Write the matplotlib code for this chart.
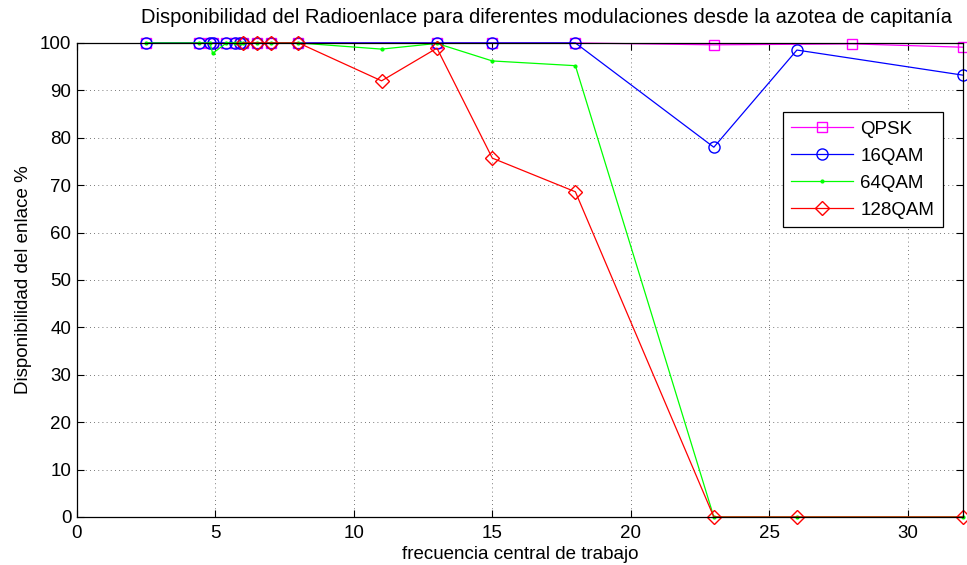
import matplotlib
matplotlib.use('Agg')
import matplotlib.pyplot as plt

plt.rcParams['font.family'] = ['Liberation Sans', 'DejaVu Sans']

# frecuencias (GHz) y disponibilidad (%) por modulacion
f_qpsk = [2.5, 4.4, 4.8, 4.9, 5.4, 5.7, 5.9, 6.0, 6.5, 7.0, 8.0, 13.0, 15.0, 18.0, 23.0, 28.0, 32.0]
d_qpsk = [100, 100, 100, 100, 100, 100, 100, 100, 100, 100, 100, 100, 100, 100, 99.6, 99.8, 99.1]

f_16qam = [2.5, 4.4, 4.8, 4.9, 5.4, 5.7, 5.9, 6.0, 6.5, 7.0, 8.0, 13.0, 15.0, 18.0, 23.0, 26.0, 32.0]
d_16qam = [100, 100, 100, 100, 100, 100, 100, 100, 100, 100, 100, 100, 100, 100, 78.0, 98.5, 93.2]

f_64qam = [2.5, 4.4, 4.8, 4.9, 5.4, 5.7, 5.9, 6.0, 6.5, 7.0, 8.0, 11.0, 13.0, 15.0, 18.0, 23.0, 26.0, 32.0]
d_64qam = [100, 100, 100, 97.8, 100, 100, 100, 100, 100, 100, 100, 98.7, 99.9, 96.2, 95.2, 0, 0, 0]

f_128qam = [6.0, 6.5, 7.0, 8.0, 11.0, 13.0, 15.0, 18.0, 23.0, 26.0, 32.0]
d_128qam = [100, 100, 100, 100, 92.0, 98.9, 75.7, 68.6, 0, 0, 0]

etiquetas = ['QPSK', '16QAM', '64QAM', '128QAM']

fig = plt.figure(figsize=(9.67, 5.65), dpi=100)
ax = fig.add_axes([0.0796, 0.085, 0.9163, 0.839])

ax.plot(f_qpsk, d_qpsk, color='#ff00ff', marker='s', markersize=6.5,
        markerfacecolor='none', linewidth=0.9, label=etiquetas[0], clip_on=False)
ax.plot(f_16qam, d_16qam, color='#0000ff', marker='o', markersize=8,
        markerfacecolor='none', linewidth=0.9, label=etiquetas[1], clip_on=False)
ax.plot(f_64qam, d_64qam, color='#00ff00', marker='.', markersize=4,
        linewidth=0.9, label=etiquetas[2], clip_on=False)
ax.plot(f_128qam, d_128qam, color='#ff0000', marker='D', markersize=7,
        markerfacecolor='none', linewidth=0.9, label=etiquetas[3], clip_on=False)

ax.set_xlim(0, 32)
ax.set_ylim(0, 100)
ax.set_xticks(range(0, 31, 5))
ax.set_yticks(range(0, 101, 10))
ax.tick_params(direction='in', top=True, right=True, length=5, width=0.8,
               labelsize=13.5)
ax.tick_params(axis='x', pad=6)
ax.tick_params(axis='y', pad=4)
ax.grid(True, linestyle=(0, (1, 4)), color='black', linewidth=0.6, alpha=0.7)
for s in ax.spines.values():
    s.set_linewidth(0.9)

ax.set_title('Disponibilidad del Radioenlace para diferentes modulaciones desde la azotea de capitanía',
             fontsize=14.5, pad=14, x=0.53)
ax.set_xlabel('frecuencia central de trabajo', fontsize=13.5, labelpad=3)
ax.set_ylabel('Disponibilidad del enlace %', fontsize=13.5, labelpad=6)

leg = ax.legend(loc='upper right', bbox_to_anchor=(0.977, 0.854), borderaxespad=0,
                fontsize=13.5, fancybox=False, framealpha=1, edgecolor='black',
                borderpad=0.45, handlelength=3.3, labelspacing=0.53, handletextpad=0.4)
leg.get_frame().set_linewidth(0.9)

fig.savefig('out.png', dpi=100)
